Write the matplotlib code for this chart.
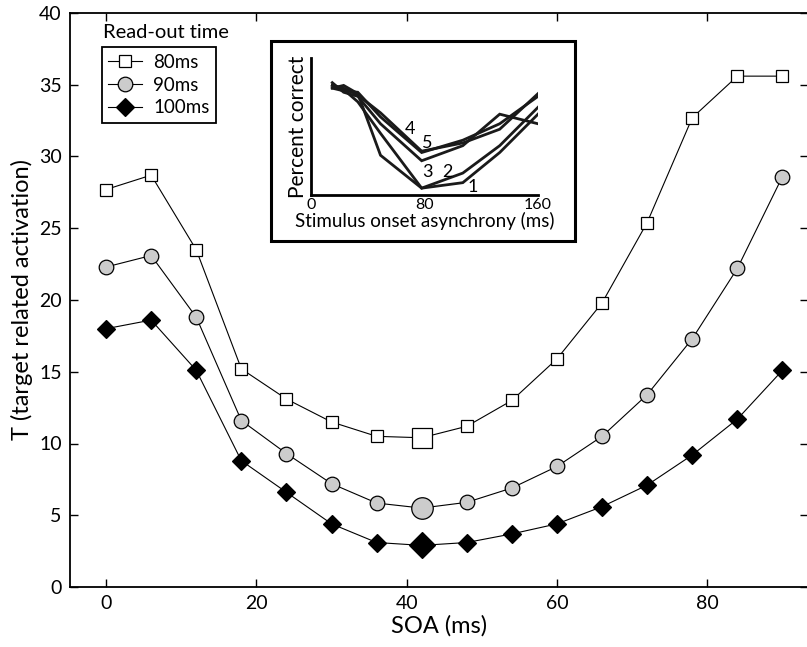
import matplotlib
matplotlib.use("Agg")
import matplotlib.pyplot as plt
from matplotlib.patches import Rectangle

plt.rcParams["font.family"] = ["Lato", "DejaVu Sans"]

# ─── main data: target-related activation vs SOA ────────────────────────────────
soa = [0, 6, 12, 18, 24, 30, 36, 42, 48, 54, 60, 66, 72, 78, 84, 90]
t_80 = [27.7, 28.7, 23.5, 15.2, 13.1, 11.5, 10.5, 10.4, 11.2, 13.0, 15.9, 19.8, 25.4, 32.7, 35.6, 35.6]
t_90 = [22.3, 23.1, 18.8, 11.6, 9.3, 7.2, 5.85, 5.5, 5.9, 6.9, 8.4, 10.5, 13.4, 17.3, 22.2, 28.6]
t_100 = [18.0, 18.6, 15.1, 8.8, 6.6, 4.4, 3.1, 2.9, 3.1, 3.7, 4.4, 5.6, 7.1, 9.2, 11.7, 15.1]
highlight = 7          # index of the enlarged marker (SOA 42)

# ─── inset data: percent correct vs stimulus onset asynchrony ────────────────────
inset_x = [15, 23, 33, 49, 78, 107, 133, 160]
inset_curves = {
    "1": [78, 80, 74, 29, 5, 9, 31, 59],
    "2": [80, 77, 68, 45, 5, 16, 36, 64],
    "3": [82, 75, 72, 52, 25, 36, 59, 52],
    "4": [80, 78, 73, 60, 32, 38, 48, 74],
    "5": [78, 76, 75, 57, 31, 40, 52, 72],
}
inset_labels = {"4": (70, 48), "5": (82, 38), "3": (82, 17), "2": (96, 17), "1": (114, 6)}

fig = plt.figure(figsize=(8.07, 6.47), dpi=100)
W, H = 807, 647
ax = fig.add_axes([70 / W, (H - 587) / H, (808 - 70) / W, (587 - 13) / H])

styles = [
    (t_80, "s", "white", 9, 14, "80ms"),
    (t_90, "o", "#cccccc", 10.5, 15.5, "90ms"),
    (t_100, "D", "black", 9, 13, "100ms"),
]
handles = []
for ys, mk, fc, ms, big, lab in styles:
    h, = ax.plot(soa, ys, color="black", lw=0.8, marker=mk, ms=ms, mfc=fc,
                 mec="black", mew=0.9, label=lab)
    ax.plot([soa[highlight]], [ys[highlight]], ls="none", marker=mk, ms=big,
            mfc=fc, mec="black", mew=0.9)
    handles.append(h)

ax.set_xlim(-4.8, 93.4)
ax.set_ylim(0, 40)
ax.set_xticks([0, 20, 40, 60, 80])
ax.set_yticks(range(0, 41, 5))
ax.tick_params(direction="in", top=True, right=True, length=6, width=1,
               labelsize=14, pad=6)
for s in ax.spines.values():
    s.set_linewidth(1.3)
ax.set_xlabel("SOA (ms)", fontsize=17, labelpad=2)
ax.set_ylabel("T (target related activation)", fontsize=17, labelpad=4)

leg = ax.legend(handles=handles, loc="upper left", bbox_to_anchor=(0.043, 0.94),
                borderaxespad=0, fancybox=False, edgecolor="black", framealpha=1,
                fontsize=13.5, handlelength=1.8, handletextpad=0.6, borderpad=0.35,
                labelspacing=0.3)
leg.get_frame().set_linewidth(1.3)
ax.text(0.045, 0.966, "Read-out time", transform=ax.transAxes, fontsize=14.5,
        ha="left", va="center")

# ─── inset ───────────────────────────────────────────────────────────────────────
fig.add_artist(Rectangle((271 / W, (H - 241) / H), (575 - 271) / W, (241 - 41) / H,
                         transform=fig.transFigure, fill=True, facecolor="white",
                         edgecolor="black", lw=2.2, zorder=5))
iax = fig.add_axes([311 / W, (H - 195) / H, (538 - 311) / W, (195 - 58) / H], zorder=6)
iax.patch.set_alpha(0)
for key, ys in inset_curves.items():
    iax.plot(inset_x, ys, color="#1a1a1a", lw=2.0, solid_joinstyle="miter")
for key, (lx, ly) in inset_labels.items():
    iax.text(lx, ly, key, fontsize=13, ha="center", va="center")
iax.set_xlim(0, 160)
iax.set_ylim(0, 100)
iax.set_xticks([0, 80, 160])
iax.set_yticks([])
iax.tick_params(length=0, labelsize=11.5, pad=2)
iax.spines["top"].set_visible(False)
iax.spines["right"].set_visible(False)
iax.spines["left"].set_linewidth(2)
iax.spines["bottom"].set_linewidth(2)
iax.set_xlabel("Stimulus onset asynchrony (ms)", fontsize=13.5, labelpad=0)
iax.set_ylabel("Percent correct", fontsize=15, labelpad=2)

fig.savefig("out.png", dpi=100)
